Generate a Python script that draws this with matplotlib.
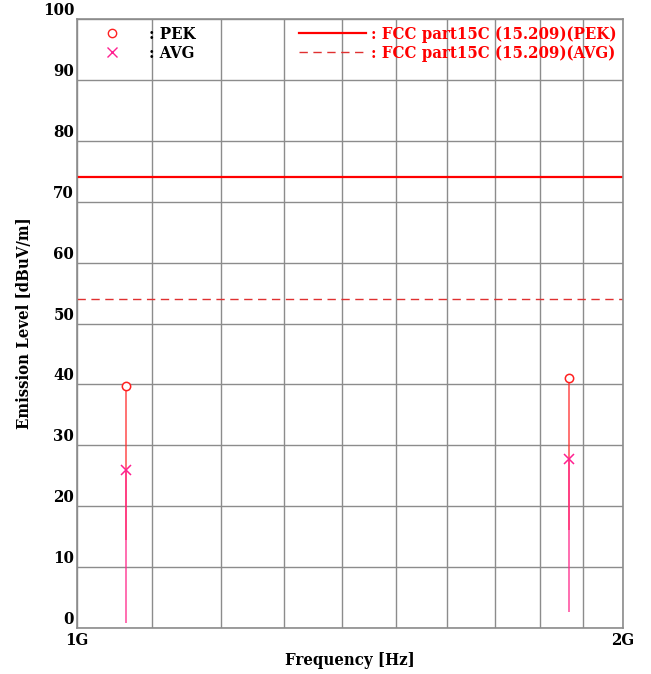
import matplotlib
matplotlib.use("Agg")
import matplotlib.pyplot as plt
from matplotlib.lines import Line2D
from matplotlib.ticker import FixedLocator, NullFormatter

# measured points (frequency in Hz, level in dBuV/m)
freq = [1.064e9, 1.867e9]
pek = [39.7, 41.1]
avg = [25.9, 27.7]
pek_floor = [14.4, 16.1]
avg_floor = [0.8, 2.7]

# limit lines
limit_pek = 74
limit_avg = 54
limit_labels = [": FCC part15C (15.209)(PEK)", ": FCC part15C (15.209)(AVG)"]
det_labels = [": PEK", ": AVG"]

yticks = list(range(0, 101, 10))
xmajor = [1e9, 2e9]
xmajor_labels = ["1G", "2G"]
xminor = [1.1e9, 1.2e9, 1.3e9, 1.4e9, 1.5e9, 1.6e9, 1.7e9, 1.8e9, 1.9e9]

plt.rcParams['font.family'] = ['DejaVu Serif']
plt.rcParams['font.stretch'] = 'condensed'
plt.rcParams['font.weight'] = 'bold'
plt.rcParams['axes.labelweight'] = 'bold'

fs = 12

fig = plt.figure(figsize=(6.51, 6.74), dpi=100)
ax = fig.add_axes([77 / 651, 46 / 674, 546 / 651, 609 / 674])

ax.set_xscale('log')
ax.set_xlim(1e9, 2e9)
ax.set_ylim(0, 100)

grid_c = '#8c8c8c'
ax.xaxis.set_major_locator(FixedLocator(xmajor))
ax.xaxis.set_minor_locator(FixedLocator(xminor))
ax.xaxis.set_minor_formatter(NullFormatter())
ax.set_xticklabels(xmajor_labels)
ax.set_yticks(yticks)
ax.grid(True, which='both', color=grid_c, linewidth=1)
ax.set_axisbelow(True)
ax.tick_params(which='both', length=0, labelsize=fs)
ax.tick_params(axis='x', pad=3)
ax.tick_params(axis='y', pad=2)
for lbl in ax.get_yticklabels():
    lbl.set_verticalalignment('bottom')
for s in ax.spines.values():
    s.set_color(grid_c)
    s.set_linewidth(1.2)

# limits
ax.axhline(limit_pek, color='#ff0000', linewidth=1.6)
ax.axhline(limit_avg, color='#e03030', linewidth=1.0, dashes=(6, 4))

# stems
ax.vlines(freq, pek_floor, pek, color='#ff3030', linewidth=1.2, alpha=0.8)
ax.vlines(freq, avg_floor, avg, color='#ff2a8c', linewidth=1.2, alpha=0.8)

ax.plot(freq, pek, linestyle='none', marker='o', markersize=6,
        markerfacecolor='white', markeredgecolor='#ff2020', markeredgewidth=1.1)
ax.plot(freq, avg, linestyle='none', marker='x', markersize=7,
        color='#ff2090', markeredgewidth=1.1)

# detector legend
h1 = [Line2D([], [], linestyle='none', marker='o', markersize=6,
             markerfacecolor='white', markeredgecolor='#ff2020'),
      Line2D([], [], linestyle='none', marker='x', markersize=7,
             color='#ff2090')]
leg1 = ax.legend(h1, det_labels, loc='upper left', bbox_to_anchor=(0.037, 1.0),
                 frameon=False, fontsize=fs, handlelength=1.0, handletextpad=1.7,
                 labelspacing=0.15, borderaxespad=0)
ax.add_artist(leg1)

h2 = [Line2D([], [], color='#ff0000', linewidth=1.6),
      Line2D([], [], color='#e03030', linewidth=1.0, dashes=(6, 4))]
leg2 = ax.legend(h2, limit_labels, loc='upper right', bbox_to_anchor=(1.0, 1.0),
                 frameon=False, fontsize=fs, handlelength=4.0, handletextpad=0.3,
                 labelspacing=0.15, borderaxespad=0)
for t in leg2.get_texts():
    t.set_color('#ff0000')

ax.set_xlabel('Frequency [Hz]', fontsize=fs, labelpad=2)
ax.set_ylabel('Emission Level [dBuV/m]', fontsize=fs, labelpad=7)

fig.savefig('out.png', dpi=100)
